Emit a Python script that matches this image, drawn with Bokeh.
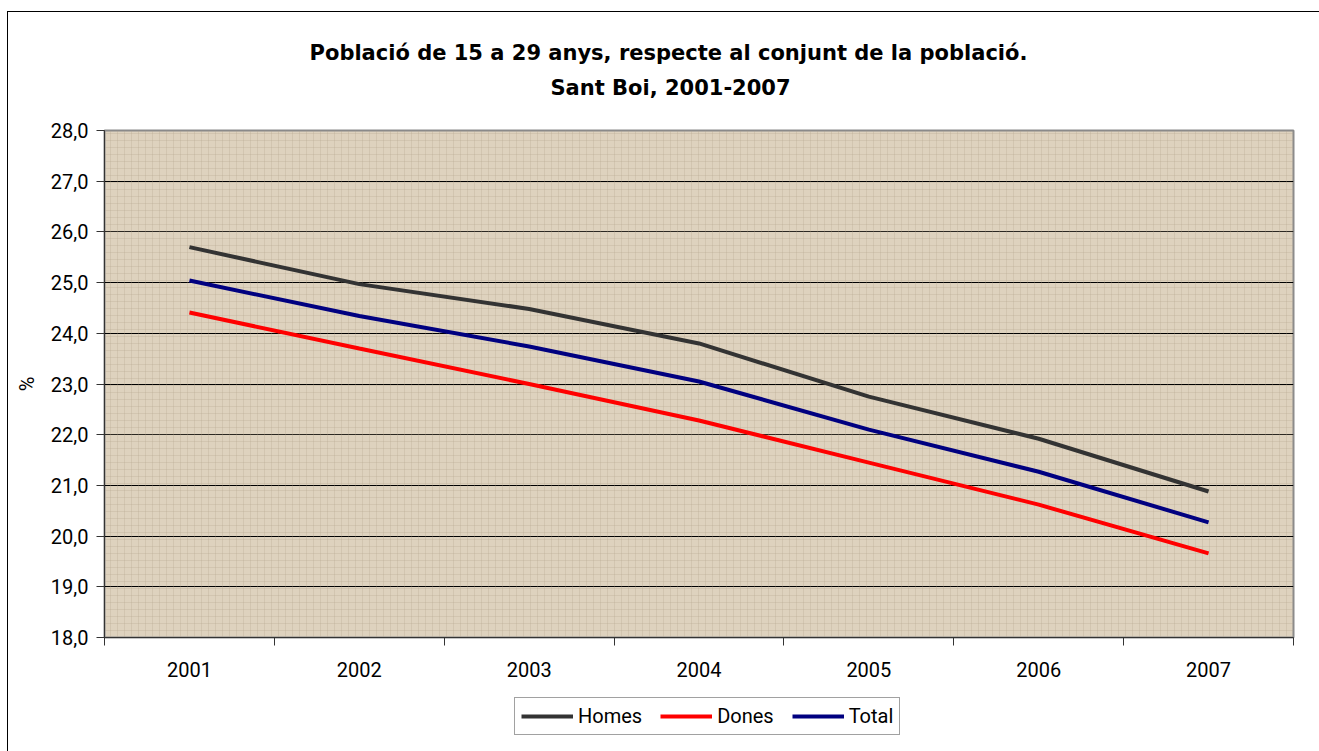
from bokeh.plotting import figure
from bokeh.layouts import column
from bokeh.models import (Label, FixedTicker, CustomJSTickFormatter, Legend, LegendItem,
                          BoxAnnotation, Range1d)
from bokeh.embed import file_html
from bokeh.resources import INLINE

years = ["2001", "2002", "2003", "2004", "2005", "2006", "2007"]
homes = [25.7, 24.97, 24.48, 23.8, 22.75, 21.92, 20.88]
dones = [24.41, 23.7, 23.0, 22.28, 21.45, 20.62, 19.66]
total = [25.04, 24.34, 23.74, 23.05, 22.1, 21.27, 20.27]
y_ticks = [18, 19, 20, 21, 22, 23, 24, 25, 26, 27, 28]
title_lines = ["Població de 15 a 29 anys, respecte al conjunt de la població.", "Sant Boi, 2001-2007"]
series_names = ["Homes", "Dones", "Total"]
series_colors = ["#333333", "#FF0000", "#000080"]
series_values = [homes, dones, total]

FONT = "Roboto"
TFONT = "DejaVu Sans"
xs = [i + 0.5 for i in range(len(years))]
W = 1311

# ---- title strip ----
tf = figure(width=W, height=103, output_backend="svg", toolbar_location=None,
            x_range=Range1d(0, 1), y_range=Range1d(0, 1),
            min_border_left=0, min_border_right=0, min_border_top=0, min_border_bottom=0,
            outline_line_color=None, background_fill_color="white", border_fill_color="white")
tf.axis.visible = False
tf.grid.grid_line_color = None
for txt, sx, sy in zip(title_lines, [564, 566], [63, 28]):
    tf.add_layout(Label(x=sx, y=sy, x_units="screen", y_units="screen", text=txt,
                        text_font=TFONT, text_font_size="21px", text_font_style="bold",
                        text_color="black", text_align="center", text_baseline="middle"))

# ---- main plot ----
p = figure(width=W, height=580, output_backend="svg", toolbar_location=None,
           x_range=Range1d(0, len(years)), y_range=Range1d(18, 28),
           min_border_left=96, min_border_right=26, min_border_top=15, min_border_bottom=58,
           background_fill_color="#DED2BE", border_fill_color="white",
           outline_line_color="#8a8a8a", outline_line_width=2)

p.add_layout(BoxAnnotation(fill_alpha=0, line_alpha=0, hatch_pattern="+", hatch_color="#b0a089",
                           hatch_alpha=0.25, hatch_scale=7, hatch_weight=1, level="underlay"))

for vals, col in zip(series_values, series_colors):
    p.line(xs, vals, line_color=col, line_width=4)

p.xgrid.grid_line_color = None
p.ygrid.grid_line_color = "black"
p.ygrid.grid_line_width = 1
p.ygrid.ticker = FixedTicker(ticks=y_ticks)

p.yaxis.ticker = FixedTicker(ticks=y_ticks)
p.yaxis.formatter = CustomJSTickFormatter(code="return tick.toFixed(1).replace('.', ',');")
p.yaxis.axis_label = "%"
p.yaxis.axis_label_text_font = FONT
p.yaxis.axis_label_text_font_style = "normal"
p.yaxis.axis_label_text_font_size = "20px"
p.yaxis.axis_label_text_color = "black"
p.yaxis.axis_label_standoff = 9
p.yaxis.major_label_text_font = FONT
p.yaxis.major_label_text_font_size = "20px"
p.yaxis.major_label_text_color = "black"
p.yaxis.major_tick_out = 8
p.yaxis.major_tick_in = 0
p.yaxis.minor_tick_out = 0
p.yaxis.minor_tick_in = 0
p.yaxis.major_label_standoff = 8
p.yaxis.axis_line_color = "#333333"
p.yaxis.major_tick_line_color = "#333333"

p.xaxis.ticker = FixedTicker(ticks=xs, minor_ticks=list(range(len(years) + 1)))
p.xaxis.major_label_overrides = {x: y for x, y in zip(xs, years)}
p.xaxis.major_tick_out = 0
p.xaxis.major_tick_in = 0
p.xaxis.minor_tick_out = 8
p.xaxis.minor_tick_in = 0
p.xaxis.minor_tick_line_color = "#333333"
p.xaxis.axis_line_color = "#333333"
p.xaxis.major_label_standoff = 16
p.xaxis.major_label_text_font = FONT
p.xaxis.major_label_text_font_size = "20px"
p.xaxis.major_label_text_color = "black"

# ---- legend strip (same series, drawn out of view so only the legend shows) ----
lf = figure(width=W, height=56, output_backend="svg", toolbar_location=None,
            x_range=Range1d(0, 1), y_range=Range1d(100, 101),
            min_border_left=0, min_border_right=0, min_border_top=0, min_border_bottom=0,
            outline_line_color=None, background_fill_color="white", border_fill_color="white")
lf.axis.visible = False
lf.grid.grid_line_color = None
items = []
for name, vals, col in zip(series_names, series_values, series_colors):
    r = lf.line(xs, vals, line_color=col, line_width=4)
    items.append(LegendItem(label=name, renderers=[r]))

legend = Legend(items=items, orientation="horizontal", location=(410, 16),
                glyph_width=52, glyph_height=20, label_standoff=5, spacing=18,
                padding=6, margin=0, label_text_font=FONT, label_text_font_size="20px",
                label_text_color="black",
                border_line_color="#444444", border_line_width=1,
                background_fill_color="white", background_fill_alpha=1)
lf.add_layout(legend, "center")

layout = column(tf, p, lf, spacing=0)
layout.styles = {"margin-left": "7px", "margin-top": "11px",
                 "border-left": "1px solid #000", "border-top": "1px solid #000"}

open("out.html", "w").write(file_html(layout, INLINE))
